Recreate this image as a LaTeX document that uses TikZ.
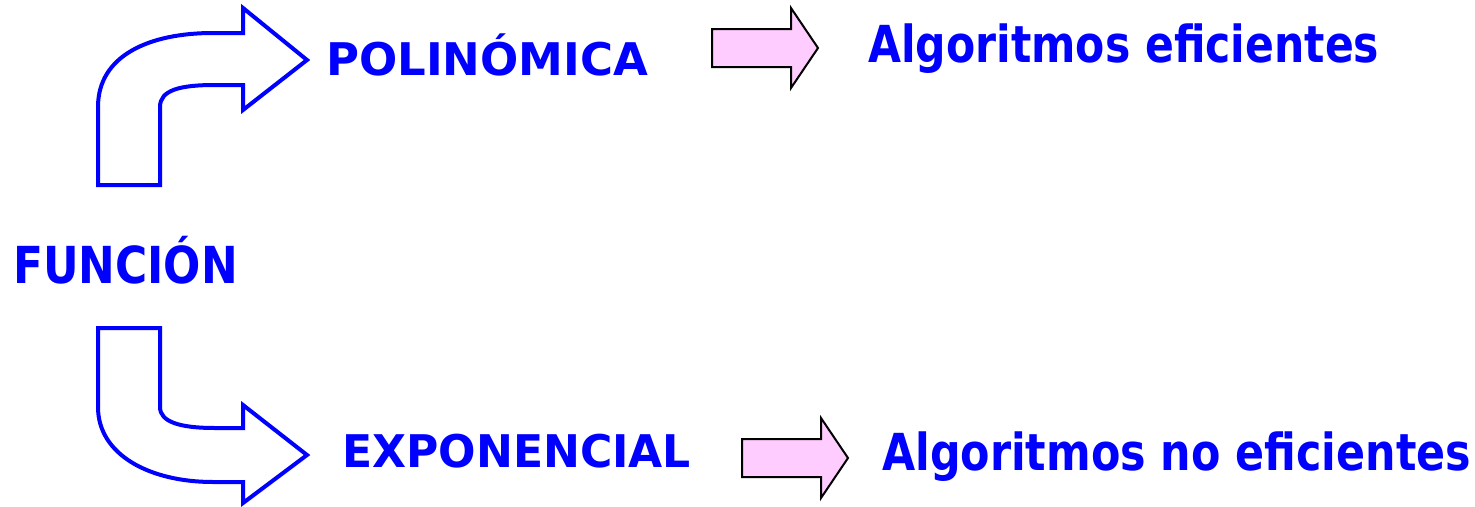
\documentclass[tikz,border=0pt]{standalone}
\usepackage{fontspec}
\setmainfont{DejaVu Sans}
\usepackage{graphicx}
\definecolor{pinkfill}{RGB}{255,204,255}
\tikzset{
  bigtxt/.style={anchor=base west,inner sep=0pt,text=blue,font=\fontsize{51}{60}\selectfont\bfseries},
  midtxt/.style={anchor=base west,inner sep=0pt,text=blue,font=\fontsize{45}{54}\selectfont\bfseries},
  bluearrow/.style={draw=blue,line width=4pt,line join=miter,fill=white},
  pinkarrow/.style={draw=black,line width=2pt,line join=miter,fill=pinkfill}
}
\begin{document}
\begin{tikzpicture}[x=1pt,y=-1pt]
\useasboundingbox (0,0) rectangle (1475,506);
% curved arrows
\draw[bluearrow] (98,185) -- (98,107) .. controls (98,55) and (150,33) .. (213,33)
  -- (243,33) -- (243,8) -- (307,60) -- (243,110) -- (243,85) -- (215,85)
  .. controls (180,85) and (160,90) .. (160,107) -- (160,185) -- cycle;
\draw[bluearrow] (98,328) -- (98,407) .. controls (98,455) and (150,482) .. (213,482)
  -- (243,482) -- (243,503) -- (307,455) -- (243,405) -- (243,428) -- (215,428)
  .. controls (180,428) and (160,422) .. (160,407) -- (160,328) -- cycle;
% block arrows
\foreach \xx/\yy in {712/48,742/458} {
  \draw[pinkarrow] (\xx,\yy-19) -- (\xx+79,\yy-19) -- (\xx+79,\yy-40) -- (\xx+106,\yy)
    -- (\xx+79,\yy+40) -- (\xx+79,\yy+19) -- (\xx,\yy+19) -- cycle;
}
\node[bigtxt] (funcion) at (13,283) {\scalebox{0.86}[1]{FUNCIÓN}};
\node[midtxt] (polin) at (326,75) {POLINÓMICA};
\node[midtxt] (expon) at (342,467) {\scalebox{0.98}[1]{EXPONENCIAL}};
\node[bigtxt] (efic) at (868,62) {\scalebox{0.835}[1]{Algoritmos eficientes}};
\node[bigtxt] (noefic) at (882,470) {\scalebox{0.84}[1]{Algoritmos no eficientes}};
\end{tikzpicture}
\end{document}
